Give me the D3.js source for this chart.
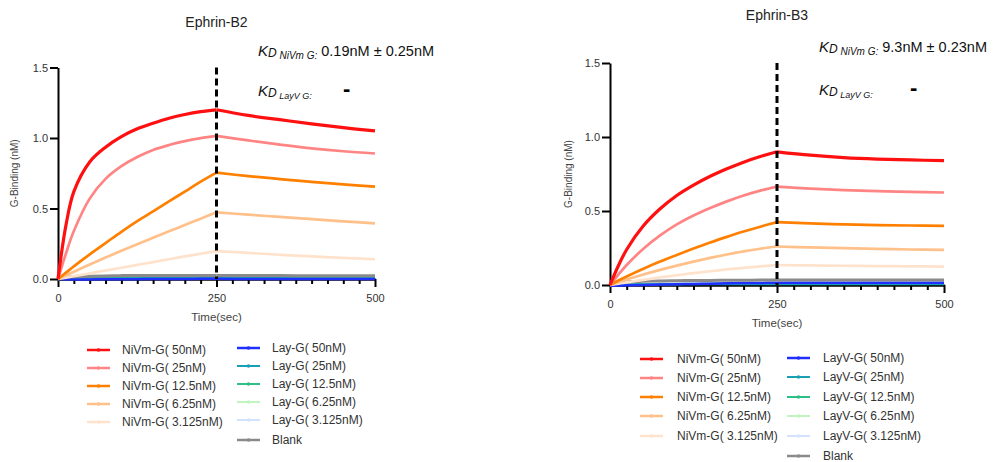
<!DOCTYPE html>
<html>
<head>
<meta charset="utf-8">
<script src="https://cdn.jsdelivr.net/npm/d3@7"></script>
<style>
  body { margin: 0; background: #fff; }
  svg { font-family: "Liberation Sans", Arial, sans-serif; }
  .axis path, .axis line { stroke: #000; stroke-width: 2; }
  .axis text { fill: #333; font-size: 11px; }
</style>
</head>
<body>
<svg width="1003" height="462"></svg>
<script>
// sample times (sec)
var times = [0, 12.5, 25, 50, 75, 100, 125, 150, 175, 200, 225, 250, 300, 350, 400, 450, 500];

// Ephrin-B2 panel, binding (nM)
var b2NiVm50  = [0, 0.38, 0.62, 0.83, 0.935, 1.01, 1.065, 1.105, 1.14, 1.167, 1.187, 1.20, 1.16, 1.13, 1.10, 1.073, 1.05];
var b2NiVm25  = [0, 0.18, 0.34, 0.57, 0.71, 0.80, 0.865, 0.915, 0.95, 0.978, 0.999, 1.015, 0.983, 0.953, 0.927, 0.906, 0.89];
var b2NiVm12  = [0, 0.045, 0.09, 0.175, 0.255, 0.335, 0.41, 0.48, 0.55, 0.62, 0.69, 0.754, 0.73, 0.709, 0.689, 0.671, 0.655];
var b2NiVm6   = [0, 0.026, 0.052, 0.103, 0.152, 0.20, 0.247, 0.293, 0.338, 0.383, 0.428, 0.473, 0.456, 0.44, 0.424, 0.409, 0.395];
var b2NiVm3   = [0, 0.01, 0.02, 0.04, 0.06, 0.08, 0.10, 0.12, 0.14, 0.16, 0.179, 0.198, 0.185, 0.172, 0.16, 0.15, 0.14];
var b2Lay50   = [0, -0.002, -0.003, -0.003, -0.002, -0.002, -0.001, 0, 0, 0, 0.001, 0.001, 0, 0, 0, 0, 0];
var b2Lay25   = [0, 0.002, 0.003, 0.004, 0.005, 0.005, 0.005, 0.006, 0.006, 0.006, 0.006, 0.006, 0.005, 0.005, 0.005, 0.005, 0.005];
var b2Lay12   = [0, 0.003, 0.005, 0.006, 0.007, 0.008, 0.008, 0.008, 0.008, 0.008, 0.008, 0.008, 0.008, 0.008, 0.008, 0.008, 0.008];
var b2Lay6    = [0, 0.004, 0.006, 0.008, 0.009, 0.010, 0.010, 0.010, 0.010, 0.010, 0.010, 0.010, 0.010, 0.010, 0.010, 0.010, 0.010];
var b2Lay3    = [0, 0.005, 0.007, 0.009, 0.010, 0.011, 0.012, 0.012, 0.012, 0.012, 0.012, 0.012, 0.012, 0.012, 0.012, 0.012, 0.012];
var b2Blank   = [0, 0.012, 0.016, 0.020, 0.022, 0.024, 0.024, 0.025, 0.025, 0.025, 0.025, 0.025, 0.024, 0.024, 0.023, 0.023, 0.023];

// Ephrin-B3 panel
var b3NiVm50  = [0, 0.13, 0.24, 0.40, 0.515, 0.605, 0.675, 0.735, 0.785, 0.83, 0.868, 0.90, 0.877, 0.861, 0.851, 0.845, 0.84];
var b3NiVm25  = [0, 0.07, 0.135, 0.245, 0.335, 0.41, 0.47, 0.52, 0.565, 0.605, 0.638, 0.665, 0.651, 0.641, 0.634, 0.629, 0.625];
var b3NiVm12  = [0, 0.03, 0.058, 0.11, 0.158, 0.203, 0.246, 0.287, 0.325, 0.361, 0.394, 0.425, 0.416, 0.41, 0.405, 0.402, 0.40];
var b3NiVm6   = [0, 0.019, 0.037, 0.071, 0.102, 0.131, 0.158, 0.183, 0.206, 0.227, 0.245, 0.26, 0.254, 0.249, 0.244, 0.24, 0.237];
var b3NiVm3   = [0, 0.009, 0.018, 0.035, 0.051, 0.066, 0.08, 0.093, 0.105, 0.116, 0.126, 0.135, 0.132, 0.13, 0.128, 0.126, 0.124];
var b3Lay50   = [-0.005, -0.004, -0.002, 0, 0.003, 0.005, 0.007, 0.009, 0.011, 0.013, 0.014, 0.015, 0.015, 0.015, 0.015, 0.015, 0.015];
var b3Lay25   = [0, 0.001, 0.002, 0.003, 0.004, 0.004, 0.005, 0.005, 0.005, 0.005, 0.005, 0.005, 0.005, 0.005, 0.005, 0.005, 0.005];
var b3Lay12   = [0, 0.002, 0.003, 0.005, 0.006, 0.007, 0.007, 0.008, 0.008, 0.008, 0.008, 0.008, 0.008, 0.008, 0.008, 0.008, 0.008];
var b3Lay6    = [0, 0.003, 0.005, 0.007, 0.008, 0.009, 0.010, 0.010, 0.010, 0.010, 0.010, 0.010, 0.010, 0.010, 0.010, 0.010, 0.010];
var b3Lay3    = [0, 0.004, 0.006, 0.008, 0.010, 0.011, 0.011, 0.012, 0.012, 0.012, 0.012, 0.012, 0.012, 0.012, 0.012, 0.012, 0.012];
var b3Blank   = [0, 0.015, 0.020, 0.025, 0.027, 0.029, 0.030, 0.031, 0.032, 0.032, 0.033, 0.033, 0.033, 0.033, 0.033, 0.033, 0.033];

var nivmLabels = ["NiVm-G( 50nM)", "NiVm-G( 25nM)", "NiVm-G( 12.5nM)", "NiVm-G( 6.25nM)", "NiVm-G( 3.125nM)"];
var layLabelsB2 = ["Lay-G( 50nM)", "Lay-G( 25nM)", "Lay-G( 12.5nM)", "Lay-G( 6.25nM)", "Lay-G( 3.125nM)", "Blank"];
var layLabelsB3 = ["LayV-G( 50nM)", "LayV-G( 25nM)", "LayV-G( 12.5nM)", "LayV-G( 6.25nM)", "LayV-G( 3.125nM)", "Blank"];

var nivmColors = ["#ff1010", "#ff8585", "#ff8000", "#ffc08a", "#ffe2cc"];
var layColors = ["#1f2fff", "#1aa0b5", "#2dbf85", "#bff5bf", "#d2e2ff", "#8a8a8a"];
var nivmWidths = [3.2, 2.7, 2.7, 2.7, 2.7];
var layWidths = [2.5, 2, 2, 2, 2, 3];

var xTicks = [0, 250, 500];
var yTicks = [0, 0.5, 1.0, 1.5];
var injectEnd = 250;

var svg = d3.select("svg");

function drawPanel(p) {
  var x = d3.scaleLinear().domain([0, 500]).range(p.xr);
  var y = d3.scaleLinear().domain([0, 1.5]).range(p.yr);
  var g = svg.append("g");

  // title
  g.append("text")
    .attr("x", x(250)).attr("y", p.titleY)
    .attr("text-anchor", "middle")
    .attr("font-size", "14px").attr("fill", "#222")
    .text(p.title);

  // minor ticks on x
  g.append("g")
    .attr("class", "axis")
    .attr("transform", "translate(0," + p.yr[0] + ")")
    .call(d3.axisBottom(x).tickValues(d3.range(25, 500, 25).filter(function(d) { return d != 250; }))
      .tickSize(5).tickSizeOuter(0).tickFormat(""));

  // x axis
  g.append("g")
    .attr("class", "axis")
    .attr("transform", "translate(0," + p.yr[0] + ")")
    .call(d3.axisBottom(x).tickValues(xTicks).tickSize(8).tickSizeOuter(0).tickPadding(7));

  // y axis
  g.append("g")
    .attr("class", "axis")
    .attr("transform", "translate(" + p.xr[0] + ",0)")
    .call(d3.axisLeft(y).tickValues(yTicks).tickSize(8).tickSizeOuter(0).tickPadding(2)
      .tickFormat(d3.format(".1f")));

  g.append("text")
    .attr("x", x(250)).attr("y", p.yr[0] + 42)
    .attr("text-anchor", "middle")
    .attr("font-size", "11.5px").attr("fill", "#444")
    .text("Time(sec)");

  g.append("text")
    .attr("transform", "translate(" + p.ylabX + "," + ((p.yr[0] + p.yr[1]) / 2) + ") rotate(-90)")
    .attr("text-anchor", "middle")
    .attr("font-size", "10px").attr("fill", "#444")
    .text("G-Binding (nM)");

  // curves, association and dissociation drawn separately
  var line = d3.line()
    .x(function(d) { return x(d[0]); })
    .y(function(d) { return y(d[1]); })
    .curve(d3.curveCatmullRom.alpha(0.5));

  function curve(vals, color, w) {
    var pts = times.map(function(t, i) { return [t, vals[i]]; });
    [pts.filter(function(d) { return d[0] <= injectEnd; }),
     pts.filter(function(d) { return d[0] >= injectEnd; })].forEach(function(seg) {
      g.append("path")
        .attr("d", line(seg))
        .attr("fill", "none")
        .attr("stroke", color)
        .attr("stroke-width", w)
        .attr("stroke-linejoin", "round");
    });
  }

  var order = [4, 3, 2, 1, 0];
  order.forEach(function(i) { curve(p.lay[i], layColors[i], layWidths[i]); });
  curve(p.lay[5], layColors[5], layWidths[5]);
  order.forEach(function(i) { curve(p.nivm[i], nivmColors[i], nivmWidths[i]); });

  // end of injection
  g.append("line")
    .attr("x1", x(injectEnd)).attr("x2", x(injectEnd))
    .attr("y1", y(1.5)).attr("y2", y(0))
    .attr("stroke", "#000").attr("stroke-width", 3)
    .attr("stroke-dasharray", "7,4");

  // KD annotation
  var kd = g.append("text")
    .attr("x", p.kdX).attr("y", p.kdY1).attr("fill", "#111");
  kd.append("tspan").attr("font-style", "italic").attr("font-size", "15px").text("K");
  kd.append("tspan").attr("font-style", "italic").attr("font-size", "12px").attr("dy", 1).text("D");
  kd.append("tspan").attr("font-style", "italic").attr("font-size", "10px").attr("dy", 2).text(" NiVm G:");
  kd.append("tspan").attr("font-size", "14.5px").attr("dy", -3).text(" " + p.kdValue);

  var kd2 = g.append("text")
    .attr("x", p.kdX).attr("y", p.kdY2).attr("fill", "#111");
  kd2.append("tspan").attr("font-style", "italic").attr("font-size", "15px").text("K");
  kd2.append("tspan").attr("font-style", "italic").attr("font-size", "12px").attr("dy", 1).text("D");
  kd2.append("tspan").attr("font-style", "italic").attr("font-size", "9px").attr("dy", 2).text(" LayV G:");
  g.append("text")
    .attr("x", p.dashX).attr("y", p.kdY2)
    .attr("font-size", "22px").attr("font-weight", "bold")
    .text("-");

  // legend
  function legendItem(lx, tx, ly, color, w, label) {
    g.append("line")
      .attr("x1", lx).attr("x2", lx + 23)
      .attr("y1", ly).attr("y2", ly)
      .attr("stroke", color).attr("stroke-width", Math.min(w, 2.5));
    g.append("circle")
      .attr("cx", lx + 11.5).attr("cy", ly).attr("r", 1.8)
      .attr("fill", color);
    g.append("text")
      .attr("x", tx).attr("y", ly).attr("dy", "0.35em")
      .attr("font-size", "12px").attr("fill", "#333")
      .text(label);
  }
  nivmLabels.forEach(function(l, i) {
    legendItem(p.leg1[0], p.leg1[1], p.leg1Rows[i], nivmColors[i], nivmWidths[i], l);
  });
  p.layLabels.forEach(function(l, i) {
    legendItem(p.leg2[0], p.leg2[1], p.leg2Rows[i], layColors[i], layWidths[i], l);
  });
}

drawPanel({
  title: "Ephrin-B2", titleY: 27,
  xr: [58, 375], yr: [279, 67.5], ylabX: 18,
  nivm: [b2NiVm50, b2NiVm25, b2NiVm12, b2NiVm6, b2NiVm3],
  lay: [b2Lay50, b2Lay25, b2Lay12, b2Lay6, b2Lay3, b2Blank],
  layLabels: layLabelsB2,
  kdX: 258, kdY1: 56, kdY2: 96, dashX: 343, kdValue: "0.19nM \u00b1 0.25nM",
  leg1: [87, 122], leg1Rows: [350, 368, 386, 404, 422],
  leg2: [237, 272], leg2Rows: [348, 366, 384, 402, 420, 440]
});

drawPanel({
  title: "Ephrin-B3", titleY: 20,
  xr: [610, 944], yr: [285, 63], ylabX: 572,
  nivm: [b3NiVm50, b3NiVm25, b3NiVm12, b3NiVm6, b3NiVm3],
  lay: [b3Lay50, b3Lay25, b3Lay12, b3Lay6, b3Lay3, b3Blank],
  layLabels: layLabelsB3,
  kdX: 819, kdY1: 52, kdY2: 95, dashX: 910, kdValue: "9.3nM \u00b1 0.23nM",
  leg1: [640, 677], leg1Rows: [359, 378, 397, 416, 436],
  leg2: [787, 823], leg2Rows: [358, 377, 397, 416, 436, 456]
});
</script>
</body>
</html>
